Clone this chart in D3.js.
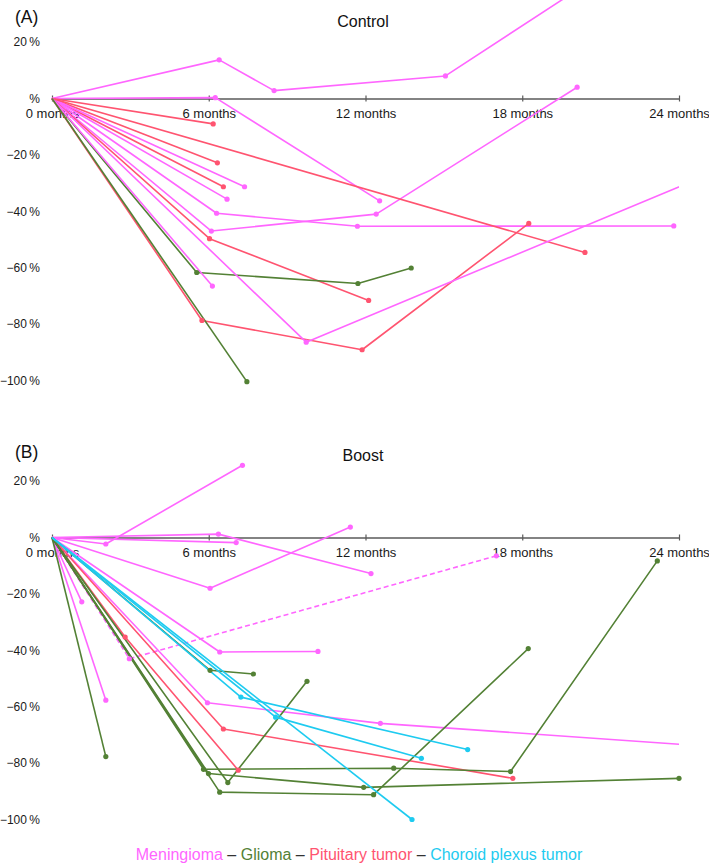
<!DOCTYPE html>
<html><head><meta charset="utf-8">
<script src="https://cdn.jsdelivr.net/npm/d3@7"></script>
<style>
body{margin:0;background:#fff}
svg{display:block;font-family:"Liberation Sans",Arial,Helvetica,sans-serif}
</style>
</head><body>
<svg id="chart" width="709" height="864"></svg>
<script>
// ---------- tick labels ----------
const monthTicks = [0, 6, 12, 18, 24];
const monthLabels = ["0 months", "6 months", "12 months", "18 months", "24 months"];
const pctTicks = [20, 0, -20, -40, -60, -80, -100];
const pctLabels = ["20\u2009%", "%", "\u221220\u2009%", "\u221240\u2009%", "\u221260\u2009%", "\u221280\u2009%", "\u2212100\u2009%"];
const tumorTypes = ["Meningioma", "Glioma", "Pituitary tumor", "Choroid plexus tumor"];

// ---------- (A) Control ----------
const controlTypes = ["Meningioma","Meningioma","Pituitary tumor","Pituitary tumor","Pituitary tumor","Meningioma","Meningioma","Meningioma","Meningioma","Pituitary tumor","Pituitary tumor","Glioma","Meningioma","Pituitary tumor","Meningioma","Glioma"];
const controlMonths = [
  [0, 6.4, 8.5, 15.06, 22],
  [0, 6.25, 12.54],
  [0, 6.17],
  [0, 6.33],
  [0, 6.56],
  [0, 7.37],
  [0, 6.7],
  [0, 6.3, 11.69, 23.8],
  [0, 6.1, 12.41, 20.1],
  [0, 6.03, 12.12],
  [0, 20.4],
  [0, 5.54, 11.71, 13.75],
  [0, 6.14],
  [0, 5.74, 11.87, 18.25],
  [0, 9.73, 26],
  [0, 7.46]
];
const controlChange = [
  [0, 13.7, 2.8, 8, 50],
  [0, 0.3, -36.3],
  [0, -9],
  [0, -22.8],
  [0, -31.3],
  [0, -31.3],
  [0, -35.7],
  [0, -40.7, -45.3, -45.2],
  [0, -47, -41, 4],
  [0, -49.7, -71.6],
  [0, -54.6],
  [0, -61.7, -65.6, -60.1],
  [0, -66.5],
  [0, -78.7, -89.1, -44.3],
  [0, -86.4, -23.6],
  [0, -100.4]
];
const controlCensored = controlTypes.map(() => false);

// ---------- (B) Boost ----------
const boostTypes = ["Meningioma","Meningioma","Meningioma","Meningioma","Meningioma","Meningioma","Meningioma","Meningioma","Meningioma","Pituitary tumor","Pituitary tumor","Glioma","Glioma","Glioma","Glioma","Glioma","Glioma","Choroid plexus tumor","Choroid plexus tumor","Choroid plexus tumor"];
const boostMonths = [
  [0, 2.06, 7.29],
  [0, 6.37, 12.21],
  [0, 7.05],
  [0, 6.05, 11.42],
  [0, 1.14],
  [0, 2.96, 17.01],
  [0, 2.06],
  [0, 6.42, 10.18],
  [0, 5.95, 12.57, 26],
  [0, 6.56, 17.64],
  [0, 2.8, 7.13],
  [0, 2.06],
  [0, 6.05, 7.71],
  [0, 6.73, 9.76],
  [0, 5.8, 13.08, 17.55, 23.17],
  [0, 5.99, 11.93, 24],
  [0, 6.42, 12.31, 18.23],
  [0, 7.23, 15.91],
  [0, 8.56, 14.14],
  [0, 13.78]
];
const boostChange = [
  [0, -2.3, 25.6],
  [0, 1.2, -12.8],
  [0, -1.8],
  [0, -18, 3.7],
  [0, -22.8],
  [0, -43, -6.5],
  [0, -57.7],
  [0, -40.6, -40.4],
  [0, -58.6, -65.9, -74.6],
  [0, -67.9, -85.4],
  [0, -35.3, -82.5],
  [0, -77.7],
  [0, -47.1, -48.4],
  [0, -86.9, -51],
  [0, -82.2, -81.8, -83, -8.3],
  [0, -83.7, -88.6, -85.4],
  [0, -90.3, -91.2, -39.4],
  [0, -56.6, -75.2],
  [0, -63.7, -78.3],
  [0, -100]
];
const boostCensored = boostTypes.map((t, i) => i === 5);

// ---------- drawing ----------
const typeColor = d3.scaleOrdinal().domain(tumorTypes)
  .range(["#ff66ff", "#538135", "#ff5470", "#1ecbf0"]);

const svg = d3.select("#chart");
const x = d3.scaleLinear().domain([0, 24]).range([52, 679]);

const defs = svg.append("defs");
defs.append("clipPath").attr("id", "plotclip").append("rect")
  .attr("x", 0).attr("y", -2000).attr("width", x(24)).attr("height", 5000);

function drawPanel(letter, title, zeroY, letterY, titleY, types, months, changes, censored, clipId) {
  const y = d3.scaleLinear().domain([0, -100]).range([zeroY, zeroY + 282]);
  const g = svg.append("g");

  g.append("text").attr("x", 15).attr("y", letterY)
    .attr("font-size", 17.5).attr("fill", "#111").text(letter);
  g.append("text").attr("x", 363).attr("y", titleY).attr("text-anchor", "middle")
    .attr("font-size", 16).attr("fill", "#111").text(title);

  // y labels
  const ya = d3.axisLeft(y).tickValues(pctTicks).tickSize(0).tickPadding(0)
    .tickFormat((d, i) => pctLabels[i]);
  const yg = g.append("g").attr("transform", "translate(40,0)").call(ya);
  yg.select(".domain").remove();
  yg.selectAll("text").attr("font-size", 12).attr("fill", "#1a1a1a")
    .attr("font-family", '"Liberation Sans",Arial,sans-serif');

  // x axis along 0%
  const xa = d3.axisBottom(x).tickValues(monthTicks).tickSizeInner(3).tickSizeOuter(0)
    .tickFormat((d, i) => monthLabels[i]);
  const xg = g.append("g").attr("transform", `translate(0,${y(0)})`).call(xa);
  xg.select(".domain").attr("stroke", "#5a5a5a").attr("stroke-width", 1.3);
  xg.selectAll(".tick line").attr("y1", -3).attr("y2", 3)
    .attr("stroke", "#5a5a5a").attr("stroke-width", 1.2);
  xg.selectAll(".tick text").attr("y", 10.6).attr("font-size", 13).attr("fill", "#1a1a1a")
    .attr("font-family", '"Liberation Sans",Arial,sans-serif');

  const line = d3.line().x(d => x(d[0])).y(d => y(d[1]));
  const lg = g.append("g").attr("clip-path", `url(#${clipId})`);
  const dg = g.append("g");
  types.forEach((t, i) => {
    const pts = months[i].map((m, j) => [m, changes[i][j]]);
    lg.append("path").datum(pts).attr("d", line)
      .attr("fill", "none").attr("stroke", typeColor(t)).attr("stroke-width", 1.6)
      .attr("stroke-linejoin", "round")
      .attr("stroke-dasharray", censored[i] ? "5,3" : null);
    dg.selectAll(null).data(pts.filter(p => p[0] > 0 && p[0] <= 24)).enter()
      .append("circle").attr("cx", d => x(d[0])).attr("cy", d => y(d[1]))
      .attr("r", 2.6).attr("fill", typeColor(t));
  });
}

drawPanel("(A)", "Control", 98.5, 22.7, 27.3, controlTypes, controlMonths, controlChange, controlCensored, "plotclip");
drawPanel("(B)", "Boost", 537.5, 457.5, 460.5, boostTypes, boostMonths, boostChange, boostCensored, "plotclip");

// legend
const leg = svg.append("text").attr("x", 359).attr("y", 860).attr("text-anchor", "middle")
  .attr("font-size", 16);
tumorTypes.forEach((t, i) => {
  if (i > 0) leg.append("tspan").attr("fill", "#333").text(" \u2013 ");
  leg.append("tspan").attr("fill", typeColor(t)).text(t);
});
</script>
</body></html>
